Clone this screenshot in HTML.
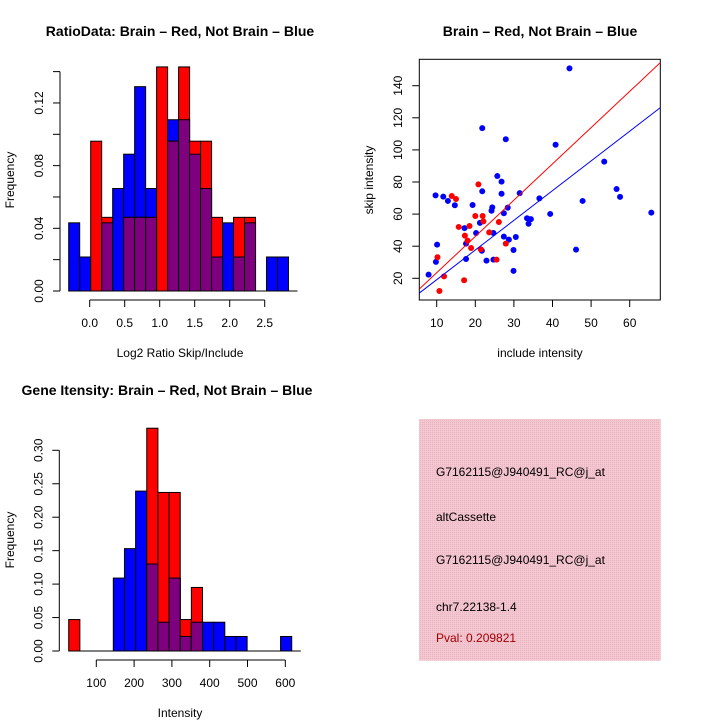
<!DOCTYPE html>
<html><head><meta charset="utf-8"><style>
html,body{margin:0;padding:0;background:#fff}
svg{display:block;font-family:"Liberation Sans",sans-serif}
</style></head><body>
<svg id="s" width="720" height="720" viewBox="0 0 720 720">
<defs><pattern id="hatch" width="2" height="2" patternUnits="userSpaceOnUse"><rect width="2" height="2" fill="#f4c6d0"/><rect width="1" height="1" fill="#e8b4c2"/></pattern></defs>
</svg>
<script>
// ---- Ratio histogram data ----
const ratioBreakStart = -0.3;
const ratioBinWidth = 0.157;
const ratioRed  = [0,0,0.0956,0.047,0,0.047,0.047,0.047,0.143,0.0956,0.143,0.0956,0.0956,0.047,0,0.047,0.047,0,0,0];
const ratioBlue = [0.0435,0.0217,0,0.0435,0.0654,0.0873,0.1304,0.0654,0,0.1093,0.1093,0.0873,0.0654,0.0217,0.0435,0.0217,0.0435,0,0.0217,0.0217];
const ratioYTicks = [0,0.02,0.04,0.06,0.08,0.10,0.12,0.14];
const ratioYLabels = ["0.00","0.04","0.08","0.12"];
const ratioXTicks = [0,0.5,1.0,1.5,2.0,2.5];
// ---- Scatter data ----
const blueX = [7.9,44.4,21.8,27.9,40.8,53.4,56.6,57.5,47.8,65.6,46.1,39.4,36.6,31.5,25.7,26.8,26.8,21.8,9.7,11.7,12.9,14.7,19.3,24.4,24.2,28.4,27.4,33.4,34.4,33.8,21.2,17.2,20.2,24.7,27.4,28.7,30.5,10.1,17.6,21.7,29.9,17.6,22.9,24.7,9.8,29.9];
const blueY = [22.3,150.8,113.6,106.6,103.2,92.7,75.6,70.7,68.2,60.9,37.9,60.1,69.8,73.1,83.7,80.2,72.7,74.2,71.7,70.9,68.2,65.5,65.7,64.2,62.1,64.0,60.5,57.4,56.9,54.0,54.5,51.3,48.2,48.2,46.0,44.1,45.7,41.0,41.6,37.2,37.6,32.0,31.0,31.6,30.2,24.6];
const redX = [10.7,10.2,11.9,17.1,13.9,15.0,20.8,15.7,17.3,18.5,20.0,21.9,22.1,18.0,18.9,21.4,23.6,26.1,25.5,27.9];
const redY = [12.1,33.1,21.2,18.8,71.3,69.4,78.5,52.0,46.6,52.6,58.8,58.8,55.5,43.5,38.9,38.1,48.6,55.1,31.6,41.6];
const redFit = [0.87,2.26];
const blueFit = [0.63,1.85];
const scatXTicks = [10,20,30,40,50,60];
const scatYTicks = [20,40,60,80,100,120,140];
// ---- Intensity histogram data ----
const intBreakStart = 27;
const intBinWidth = 29.5;
const intRed  = [0.047,0,0,0,0,0,0,0.333,0.237,0.237,0.047,0.095,0,0,0,0,0,0,0,0];
const intBlue = [0,0,0,0,0.109,0.153,0.239,0.130,0.043,0.109,0.0217,0.043,0.043,0.043,0.0217,0.0217,0,0,0,0.0217];
const intYTicks = [0,0.05,0.10,0.15,0.20,0.25,0.30];
const intXTicks = [100,200,300,400,500,600];
// ---- Info text ----
const infoLines = ["G7162115@J940491_RC@j_at","altCassette","G7162115@J940491_RC@j_at","chr7.22138-1.4","Pval: 0.209821"];

const S=document.getElementById('s'),NS='http://www.w3.org/2000/svg';
function el(t,a,txt){const e=document.createElementNS(NS,t);for(const k in a)e.setAttribute(k,a[k]);if(txt!==undefined)e.textContent=txt;S.appendChild(e);return e;}
function line(x1,y1,x2,y2,c,w){return el('line',{x1,y1,x2,y2,stroke:c||'#000','stroke-width':w||1});}
function text(x,y,s,o){const a=Object.assign({x,y,'font-size':12,'text-anchor':'middle',fill:'#000'},o||{});return el('text',a,s);}

function histogram(cfg){
  const {x0,x1v,xpx0,xscale,y0px,yscale,red,blue,bs,bw,yTicks,yLabels,xTicks,axX,xAxY,prefix,yfmt}=cfg;
  const X=v=>xpx0+(v-x1v)*xscale, Y=v=>y0px-v*yscale;
  for(let i=0;i<red.length;i++){
    const l=X(bs+i*bw), r=X(bs+(i+1)*bw), w=r-l;
    const rv=red[i], bv=blue[i];
    if(bv>0){const b=el('rect',{x:l,y:Y(bv),width:w,height:Y(0)-Y(bv),fill:'#0000ff',stroke:'#000','stroke-width':1});
      
      }
    if(rv>0){const r2=el('rect',{x:l,y:Y(rv),width:w,height:Y(0)-Y(rv),fill:'#ff0000',stroke:'#000','stroke-width':1});
      
      }
    const m=Math.min(rv,bv);
    if(m>0){const p=el('rect',{x:l,y:Y(m),width:w,height:Y(0)-Y(m),fill:'#7f007f',stroke:'#000','stroke-width':1});
      
      }
  }
  line(X(bs),Y(0),X(bs+red.length*bw)+9,Y(0));
  line(axX,Y(yTicks[0]),axX,Y(yTicks[yTicks.length-1]));
  yTicks.forEach(t=>{line(axX-7,Y(t),axX,Y(t));});
  yLabels.forEach(s=>{const v=parseFloat(s);const t=text(axX-17,Y(v),s,{transform:`rotate(-90 ${axX-17} ${Y(v)})`});
    });
  line(X(xTicks[0]),xAxY,X(xTicks[xTicks.length-1]),xAxY);
  xTicks.forEach(t=>{line(X(t),xAxY,X(t),xAxY+7);const lb=text(X(t),xAxY+27,cfg.xfmt(t));
    });
}
histogram({prefix:'ratio',x1v:0,xpx0:89.7,xscale:70,y0px:291,yscale:1567,red:ratioRed,blue:ratioBlue,bs:ratioBreakStart,bw:ratioBinWidth,
  yTicks:ratioYTicks,yLabels:ratioYLabels,xTicks:ratioXTicks,axX:60,xAxY:300,xfmt:t=>t.toFixed(1)});
histogram({prefix:'intensity',x1v:100,xpx0:96.3,xscale:0.378,y0px:651,yscale:669,red:intRed,blue:intBlue,bs:intBreakStart,bw:intBinWidth,
  yTicks:intYTicks,yLabels:intYTicks.map(v=>v.toFixed(2)),xTicks:intXTicks,axX:59.3,xAxY:660,xfmt:t=>String(t)});

// scatter
const SX=v=>436.7+(v-10)*3.86, SY=v=>278.3-(v-20)*1.605;
const box=el('rect',{x:419.3,y:59.3,width:241,height:240.7,fill:'none',stroke:'#000','stroke-width':1});

el('clipPath',{id:'cp'}).appendChild(Object.assign(document.createElementNS(NS,'rect'),{}));
const cp=S.querySelector('#cp rect');cp.setAttribute('x',419.3);cp.setAttribute('y',59.3);cp.setAttribute('width',241);cp.setAttribute('height',240.7);
blueX.forEach((x,i)=>{const c=el('circle',{cx:SX(x),cy:SY(blueY[i]),r:3,fill:'#0000ff'});
  });
redX.forEach((x,i)=>{const c=el('circle',{cx:SX(x),cy:SY(redY[i]),r:3,fill:'#ff0000'});
  });
const xa=5.5,xb=67.9;
const rl=el('line',{x1:SX(xa),y1:SY(redFit[0]+redFit[1]*xa),x2:SX(xb),y2:SY(redFit[0]+redFit[1]*xb),stroke:'#ff0000','stroke-width':1,'clip-path':'url(#cp)'});

const bl=el('line',{x1:SX(xa),y1:SY(blueFit[0]+blueFit[1]*xa),x2:SX(xb),y2:SY(blueFit[0]+blueFit[1]*xb),stroke:'#0000ff','stroke-width':1,'clip-path':'url(#cp)'});

scatXTicks.forEach(t=>{line(SX(t),300,SX(t),307);const lb=text(SX(t),327,String(t));
  });
scatYTicks.forEach(t=>{line(412.3,SY(t),419.3,SY(t));const lb=text(402,SY(t),String(t),{transform:`rotate(-90 402 ${SY(t)})`});
  });

// info box
const ib=el('rect',{x:419,y:419,width:241.7,height:241.7,fill:'url(#hatch)'});

const iy=[476,521,564,611,642];
infoLines.forEach((s,i)=>{const t=text(436,iy[i],s,{'text-anchor':'start','font-size':12,fill:i==4?'#a00000':'#000'});
  });
</script>
<svg style="position:absolute;left:0;top:0" width="720" height="720">
<g font-family="Liberation Sans, sans-serif">
<text x="180" y="36" font-size="14" font-weight="bold" text-anchor="middle">RatioData: Brain – Red, Not Brain – Blue</text>
<text x="540" y="36" font-size="14" font-weight="bold" text-anchor="middle">Brain – Red, Not Brain – Blue</text>
<text x="167" y="395" font-size="14" font-weight="bold" text-anchor="middle">Gene Itensity: Brain – Red, Not Brain – Blue</text>
<text x="180" y="357" font-size="12" text-anchor="middle">Log2 Ratio Skip/Include</text>
<text x="540" y="357" font-size="12" text-anchor="middle">include intensity</text>
<text x="180" y="717" font-size="12" text-anchor="middle">Intensity</text>
<text x="14" y="180" font-size="12" text-anchor="middle" transform="rotate(-90 14 180)">Frequency</text>
<text x="14" y="540" font-size="12" text-anchor="middle" transform="rotate(-90 14 540)">Frequency</text>
<text x="373" y="180" font-size="12" text-anchor="middle" transform="rotate(-90 373 180)">skip intensity</text>
</g></svg>
</body></html>
